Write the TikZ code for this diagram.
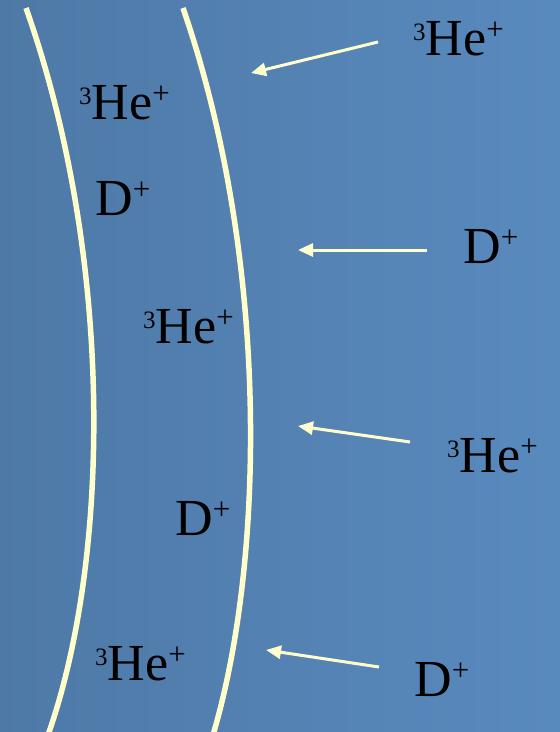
\documentclass[tikz,border=0pt]{standalone}
\usepackage{fontspec}
\setmainfont{Liberation Serif}
\usepackage{xcolor}
\usetikzlibrary{arrows.meta}

\definecolor{bgleft}{RGB}{78,121,167}
\definecolor{bgright}{RGB}{89,138,190}
\definecolor{cream}{RGB}{255,255,204}

\newcommand{\upidx}[3]{\raisebox{#1}{\fontsize{#2}{#2}\selectfont #3}}
\newcommand{\heion}{\upidx{15pt}{25}{3}He\upidx{16pt}{31}{+}}
\newcommand{\dion}{D\upidx{16pt}{31}{+}}

\begin{document}
\begin{tikzpicture}[
    x=1pt, y=-1pt,
    wall/.style={draw=cream, line width=5.5pt},
    ion/.style={inner sep=0pt, anchor=base west, text=black,
                font=\fontsize{52}{60}\selectfont},
    arrow/.style={-{Triangle[length=15pt, width=13pt]}, draw=cream,
                  line width=3pt}
]

%% ── Background ──────────────────────────────────────────────────────────────
\shade[left color=bgleft, right color=bgright] (0,0) rectangle (560,732);
\useasboundingbox (0,0) rectangle (560,732);

%% ── Walls ───────────────────────────────────────────────────────────────────
\draw[wall] (26,8)  .. controls (115,260) and (110,560) .. (48,735);
\draw[wall] (183,8) .. controls (270,260) and (265,560) .. (213,735);

%% ── Ions between the walls ──────────────────────────────────────────────────
\node[ion] (he1) at (79,119)  {\heion};
\node[ion] (d1)  at (95,215)  {\dion};
\node[ion] (he2) at (143,343) {\heion};
\node[ion] (d2)  at (175,535) {\dion};
\node[ion] (he3) at (95,680)  {\heion};

%% ── Incoming ions ───────────────────────────────────────────────────────────
\node[ion] (he4) at (413,55)  {\heion};
\node[ion] (d3)  at (463,263) {\dion};
\node[ion] (he5) at (447,472) {\heion};
\node[ion] (d4)  at (414,696) {\dion};

\coordinate (t1) at (378,42);  \coordinate (h1) at (251,73);
\coordinate (t2) at (427,250); \coordinate (h2) at (298,250);
\coordinate (t3) at (410,442); \coordinate (h3) at (298,426);
\coordinate (t4) at (379,667); \coordinate (h4) at (266,650);

\draw[arrow] (t1) -- (h1);
\draw[arrow] (t2) -- (h2);
\draw[arrow] (t3) -- (h3);
\draw[arrow] (t4) -- (h4);

\end{tikzpicture}
\end{document}
